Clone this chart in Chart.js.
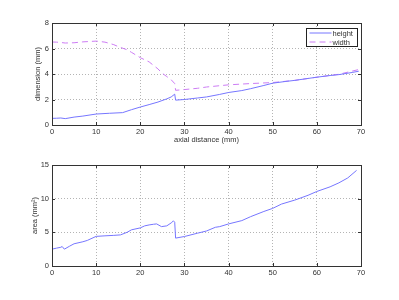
<!DOCTYPE html>
<html>
<head>
<meta charset="utf-8">
<script src="https://cdn.jsdelivr.net/npm/chart.js@4"></script>
<style>
  html, body { margin: 0; padding: 0; background: #fff; }
  .wrap { position: absolute; left: 0; width: 399px; height: 150px; }
</style>
</head>
<body>
<div class="wrap" style="top:0"><canvas id="dims"></canvas></div>
<div class="wrap" style="top:150px"><canvas id="area"></canvas></div>
<script>
// top panel: height and width along the axis
const heightX = [0, 1, 2, 3, 5, 7, 10, 13, 16, 18, 20, 22, 24, 26, 27, 27.8, 28, 30, 33, 35, 38, 40, 43, 45, 48, 50, 53, 55, 58, 60, 63, 65, 68, 69.5];
const heightY = [0.52, 0.53, 0.55, 0.5, 0.62, 0.7, 0.86, 0.92, 0.97, 1.2, 1.41, 1.6, 1.8, 2.05, 2.2, 2.42, 1.95, 2.0, 2.12, 2.2, 2.4, 2.55, 2.7, 2.85, 3.1, 3.28, 3.42, 3.5, 3.65, 3.75, 3.88, 3.95, 4.12, 4.22];
const widthX = [0, 1, 2, 3, 5, 7, 10, 12, 14, 15, 17, 18, 20, 22, 24, 25, 26, 27, 27.8, 28, 30, 33, 35, 40, 45, 50, 55, 60, 65, 69.5];
const widthY = [6.51, 6.5, 6.47, 6.43, 6.45, 6.52, 6.58, 6.5, 6.3, 6.15, 5.9, 5.7, 5.28, 4.95, 4.4, 4.05, 3.8, 3.55, 3.25, 2.72, 2.78, 2.88, 2.98, 3.15, 3.25, 3.33, 3.5, 3.75, 3.98, 4.35];

// bottom panel: cross-section area
const areaX = [0, 1, 2, 2.3, 2.8, 4, 5, 7, 8, 10, 12, 14, 15.5, 17, 18, 20, 21, 22, 23, 23.7, 24.8, 26, 27, 27.5, 27.8, 28, 30, 33, 35, 37, 38, 40, 43, 45, 48, 50, 52, 55, 58, 60, 63, 65, 67, 69];
const areaY = [2.5, 2.65, 2.78, 2.9, 2.5, 2.95, 3.3, 3.6, 3.8, 4.4, 4.48, 4.55, 4.62, 5.0, 5.37, 5.66, 5.96, 6.1, 6.2, 6.25, 5.85, 5.96, 6.4, 6.7, 6.5, 4.14, 4.38, 4.88, 5.2, 5.75, 5.85, 6.25, 6.74, 7.33, 8.1, 8.56, 9.2, 9.79, 10.5, 11.07, 11.76, 12.35, 13.08, 14.2];

const xTicks = [0, 10, 20, 30, 40, 50, 60, 70];
const dimTicks = [0, 2, 4, 6, 8];
const areaTicks = [0, 5, 10, 15];

const FONT = { family: '"Liberation Sans", Arial, sans-serif', size: 7.5 };
const TEXT = '#333';
const BLUE = '#7676ff';
const PINK = '#cc7cf4';

function pts(xs, ys) {
    return xs.map((x, i) => ({ x: x, y: ys[i] }));
}

// box round the plot area with small inward ticks, like matlab
const boxPlugin = {
    id: 'box',
    afterDraw(chart) {
        const { ctx, chartArea: a, scales } = chart;
        ctx.save();
        ctx.strokeStyle = '#333';
        ctx.lineWidth = 1;
        ctx.strokeRect(Math.round(a.left) + 0.5, Math.round(a.top) + 0.5, Math.round(a.right - a.left), Math.round(a.bottom - a.top));
        ctx.beginPath();
        scales.x.ticks.forEach(t => {
            const px = Math.round(scales.x.getPixelForValue(t.value)) + 0.5;
            ctx.moveTo(px, a.bottom); ctx.lineTo(px, a.bottom - 3);
            ctx.moveTo(px, a.top); ctx.lineTo(px, a.top + 3);
        });
        scales.y.ticks.forEach(t => {
            const py = Math.round(scales.y.getPixelForValue(t.value)) + 0.5;
            ctx.moveTo(a.left, py); ctx.lineTo(a.left + 3, py);
            ctx.moveTo(a.right, py); ctx.lineTo(a.right - 3, py);
        });
        ctx.stroke();
        ctx.restore();
    }
};

// legend box in the top right corner
const legendPlugin = {
    id: 'boxLegend',
    afterDraw(chart, args, opts) {
        if (!opts.show) return;
        const ctx = chart.ctx;
        const a = chart.chartArea;
        const x0 = Math.round(a.right) - 54.5, y0 = Math.round(a.top) + 5.5, w = 51, h = 18;
        ctx.save();
        ctx.fillStyle = '#fff';
        ctx.fillRect(x0, y0, w, h);
        ctx.strokeStyle = '#222';
        ctx.lineWidth = 1;
        ctx.strokeRect(x0, y0, w, h);
        ctx.font = FONT.size + 'px ' + FONT.family;
        ctx.textBaseline = 'middle';
        ctx.fillStyle = TEXT;
        chart.data.datasets.forEach((ds, i) => {
            const y = y0 + 4.5 + i * 9;
            ctx.strokeStyle = ds.borderColor;
            ctx.setLineDash(ds.borderDash || []);
            ctx.beginPath();
            ctx.moveTo(x0 + 3, y); ctx.lineTo(x0 + 25, y);
            ctx.stroke();
            ctx.setLineDash([]);
            ctx.fillText(ds.label, x0 + 26, y + 0.5);
        });
        ctx.restore();
    }
};

function axisOpts(tickList, max, title, titlePad, fitWidth) {
    return {
        type: 'linear', min: 0, max: max,
        afterBuildTicks: s => { s.ticks = tickList.map(v => ({ value: v })); },
        afterFit: s => { s.width = fitWidth; },
        ticks: { font: FONT, color: TEXT, padding: 3 },
        grid: { color: '#b4b4b4', drawTicks: false },
        border: { display: false, dash: [1, 2] },
        title: { display: true, text: title, font: FONT, color: TEXT, padding: { top: titlePad, bottom: 0 } }
    };
}

function xOpts(withTitle, fitHeight) {
    return {
        type: 'linear', min: 0, max: 70,
        afterBuildTicks: s => { s.ticks = xTicks.map(v => ({ value: v })); },
        afterFit: s => { s.height = fitHeight; },
        ticks: { font: FONT, color: TEXT, padding: 2, maxRotation: 0 },
        grid: { color: '#b4b4b4', drawTicks: false },
        border: { display: false, dash: [1, 2] },
        title: { display: withTitle, text: 'axial distance (mm)', font: FONT, color: TEXT, padding: { top: 0, bottom: 5.5 } }
    };
}

const common = {
    responsive: true,
    maintainAspectRatio: false,
    animation: false,
    elements: { point: { radius: 0 }, line: { borderWidth: 1, tension: 0 } }
};

new Chart(document.getElementById('dims'), {
    type: 'scatter',
    data: {
        datasets: [
            { label: 'height', data: pts(heightX, heightY), showLine: true, borderColor: BLUE, backgroundColor: BLUE },
            { label: 'width', data: pts(widthX, widthY), showLine: true, borderColor: PINK, backgroundColor: PINK, borderDash: [6, 4] }
        ]
    },
    options: Object.assign({}, common, {
        layout: { padding: { left: 0, top: 23, right: 38, bottom: 0 } },
        plugins: { legend: { display: false }, tooltip: { enabled: false }, boxLegend: { show: true } },
        scales: { x: xOpts(true, 25), y: axisOpts(dimTicks, 8, 'dimension (mm)', 33, 52) }
    }),
    plugins: [boxPlugin, legendPlugin]
});

new Chart(document.getElementById('area'), {
    type: 'scatter',
    data: {
        datasets: [
            { label: 'area', data: pts(areaX, areaY), showLine: true, borderColor: BLUE, backgroundColor: BLUE }
        ]
    },
    options: Object.assign({}, common, {
        layout: { padding: { left: 0, top: 15, right: 38, bottom: 0 } },
        plugins: { legend: { display: false }, tooltip: { enabled: false }, boxLegend: { show: false } },
        scales: { x: xOpts(false, 34), y: axisOpts(areaTicks, 15, 'area (mm\u00B2)', 30.5, 52) }
    }),
    plugins: [boxPlugin, legendPlugin]
});
</script>
</body>
</html>
